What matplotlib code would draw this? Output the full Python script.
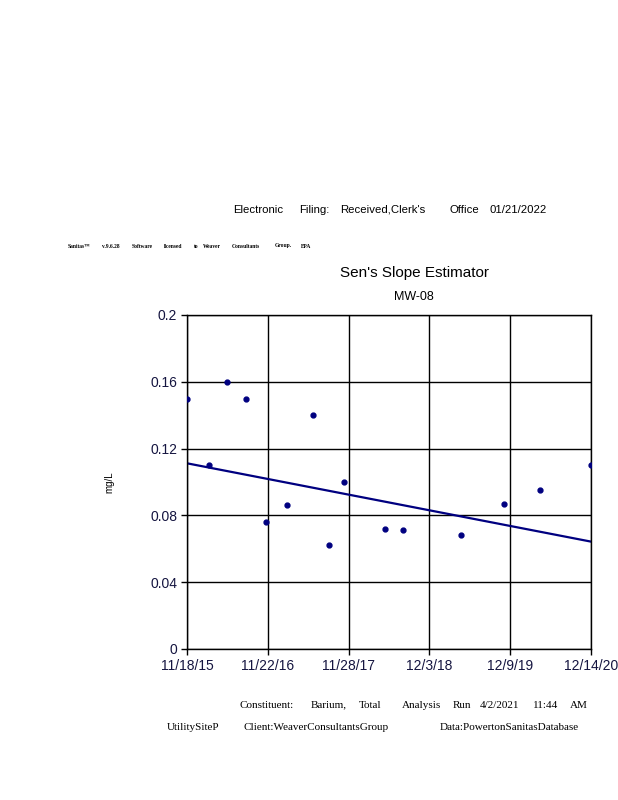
import pandas as pd
import matplotlib
matplotlib.use('Agg')
import matplotlib.pyplot as plt
import matplotlib.dates as mdates

dates = ['2015-11-18', '2016-02-27', '2016-05-19', '2016-08-15', '2016-11-14',
         '2017-02-19', '2017-06-18', '2017-08-30', '2017-11-07', '2018-05-14',
         '2018-08-05', '2019-04-28', '2019-11-11', '2020-04-24', '2020-12-14']
values = [0.15, 0.11, 0.16, 0.15, 0.076,
          0.086, 0.14, 0.062, 0.10, 0.072,
          0.071, 0.068, 0.087, 0.095, 0.11]

# Sen's slope 추세선 (시작/끝 값)
trend_dates = ['2015-11-18', '2020-12-14']
trend_values = [0.1112, 0.0643]

tick_dates = ['2015-11-18', '2016-11-22', '2017-11-28', '2018-12-03', '2019-12-09', '2020-12-14']
tick_labels = ['11/18/15', '11/22/16', '11/28/17', '12/3/18', '12/9/19', '12/14/20']
y_ticks = [0, 0.04, 0.08, 0.12, 0.16, 0.2]
y_labels = ['0', '0.04', '0.08', '0.12', '0.16', '0.2']

navy = '#000080'
label_color = '#151540'
sans = ['Liberation Sans', 'DejaVu Sans']
serif = ['Liberation Serif', 'DejaVu Serif']


def main():
    fig = plt.figure(figsize=(6.18, 8), dpi=100)
    ax = fig.add_axes([187 / 618, 1 - 649 / 800, 404 / 618, 334 / 800])

    d = pd.to_datetime(dates)
    ax.plot(d, values, 'o', color=navy, markersize=3.5, clip_on=True, zorder=3)
    ax.plot(pd.to_datetime(trend_dates), trend_values, color=navy, linewidth=1.6, zorder=2)

    ax.set_xlim(pd.to_datetime(tick_dates[0]), pd.to_datetime(tick_dates[-1]))
    ax.set_ylim(0, 0.2)
    ax.set_xticks(pd.to_datetime(tick_dates))
    ax.set_xticklabels(tick_labels, fontfamily=sans, fontsize=10, color=label_color)
    ax.set_yticks(y_ticks)
    ax.set_yticklabels(y_labels, fontfamily=sans, fontsize=10, color=label_color)
    ax.tick_params(direction='out', length=4, width=1, color='black', pad=3)
    ax.grid(True, color='black', linewidth=1)
    ax.set_axisbelow(True)
    for s in ax.spines.values():
        s.set_linewidth(1)
        s.set_color('black')

    ax.set_ylabel('mg/L', fontfamily=sans, fontsize=7, labelpad=0)
    ax.yaxis.set_label_coords(-0.18, 0.5)

    # 제목
    fig.text(414 / 618, 1 - 273 / 800, "Sen's Slope Estimator", ha='center', va='center',
             fontfamily=sans, fontsize=11)
    fig.text(414 / 618, 1 - 297 / 800, 'MW-08', ha='center', va='center',
             fontfamily=sans, fontsize=9)

    # 상단 전자 접수 문구
    top_words = [('Electronic', 233), ('Filing:', 299), ("Received,Clerk's", 340),
                 ('Office', 449), ('01/21/2022', 490)]
    for w, x in top_words:
        fig.text(x / 618, 1 - 210 / 800, w, ha='left', va='center',
                 fontfamily=sans, fontsize=8.2)

    tiny_words = [('Sanitas™', 68), ('v.9.6.28', 102), ('Software', 132), ('licensed', 164),
                  ('to', 194), ('Weaver', 203), ('Consultants', 232), ('Group.', 275), ('EPA', 301)]
    for w, x in tiny_words:
        fig.text(x / 618, 1 - 246 / 800, w, ha='left', va='center',
                 fontfamily=serif, fontsize=4, fontweight='bold')

    # 하단 정보
    foot1 = [('Constituent:', 239), ('Barium,', 311), ('Total', 359), ('Analysis', 402),
             ('Run', 453), ('4/2/2021', 480), ('11:44', 533), ('AM', 570)]
    for w, x in foot1:
        fig.text(x / 618, 1 - 705 / 800, w, ha='left', va='center',
                 fontfamily=serif, fontsize=8)
    foot2 = [('UtilitySiteP', 167), ('Client:WeaverConsultantsGroup', 243),
             ('Data:PowertonSanitasDatabase', 440)]
    for w, x in foot2:
        fig.text(x / 618, 1 - 727 / 800, w, ha='left', va='center',
                 fontfamily=serif, fontsize=8)

    fig.savefig('out.png', dpi=100)


if __name__ == "__main__":
    main()
